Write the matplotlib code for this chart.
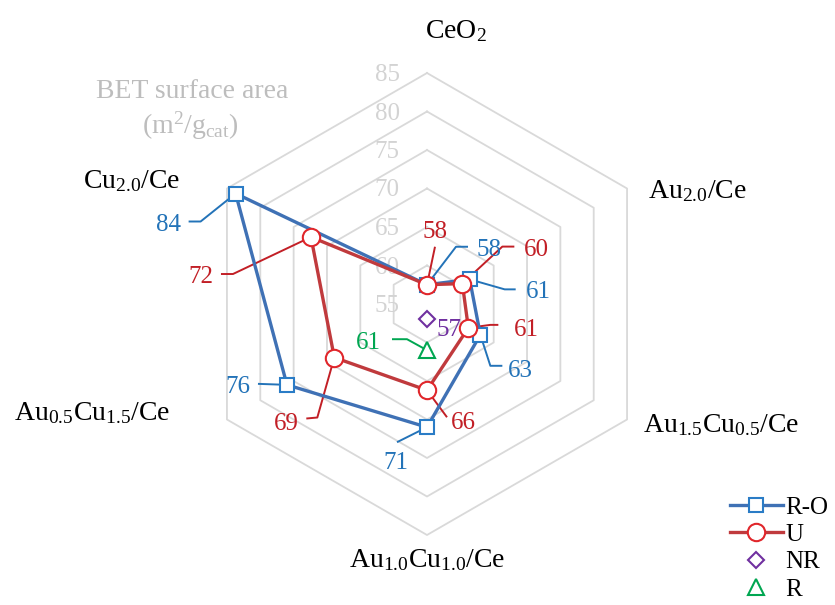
import numpy as np
import matplotlib
matplotlib.use("Agg")
import matplotlib.pyplot as plt
from matplotlib.lines import Line2D

plt.rcParams["font.family"] = ["Liberation Serif", "DejaVu Serif"]
plt.rcParams["mathtext.fontset"] = "custom"
plt.rcParams["mathtext.rm"] = "Liberation Serif"
plt.rcParams["mathtext.it"] = "Liberation Serif:italic"

# ============ DATA ============
CATEGORIES = ["CeO$_2$", "Au$_{2.0}$/Ce", "Au$_{1.5}$Cu$_{0.5}$/Ce",
              "Au$_{1.0}$Cu$_{1.0}$/Ce", "Au$_{0.5}$Cu$_{1.5}$/Ce", "Cu$_{2.0}$/Ce"]
R_O = [57.5, 61.4, 63, 71, 76, 83.7]
U = [57.5, 60.3, 61.2, 66.2, 68.9, 72.4]
NR = [np.nan, np.nan, np.nan, 57, np.nan, np.nan]
R = [np.nan, np.nan, np.nan, 61, np.nan, np.nan]
RING_VALUES = [60, 65, 70, 75, 80, 85]
TICK_VALUES = [55, 60, 65, 70, 75, 80, 85]
R_MIN = 55

# ============ STYLE ============
BLUE_LINE, BLUE_MK, BLUE_TXT = "#3f71b5", "#2a7cc6", "#2373b8"
RED_LINE, RED_MK, RED_TXT = "#c03a3d", "#e0262b", "#c21f26"
PURPLE, GREEN = "#7030a0", "#00a651"
GRID = "#d9d9d9"
PX = 7.7                      # pixels per value unit
CX, CY = 427, 304             # centre of the web in pixels
W, H = 835, 605

# leader layout, pixel offsets from the marker (image y down):
# (leader vertices, text offset, ha, va)
RO_LAYOUT = [
    ([(29, -38), (41, -38)], (49, -35), "left", "center"),
    ([(35, 10), (46, 10)], (56, 13), "left", "center"),
    ([(10, 31), (22, 31)], (28, 36), "left", "center"),
    ([(-30, 15)], (-31, 25), "center", "top"),
    ([(-29, -1)], (-37, 2), "right", "center"),
    ([(-35, 28), (-47, 28)], (-55, 31), "right", "center"),
]
U_LAYOUT = [
    ([(8, -38)], (8, -53), "center", "center"),
    ([(40, -37), (52, -37)], (62, -34), "left", "center"),
    ([(22, -3), (30, -3)], (46, 2), "left", "center"),
    ([(20, 27)], (24, 33), "left", "center"),
    ([(-17, 60), (-28, 61)], (-36, 66), "right", "center"),
    ([(-78, 37), (-90, 37)], (-98, 40), "right", "center"),
]
NR_LAYOUT = {3: ([], (10, 11), "left", "center")}
R_LAYOUT = {3: ([(-20, -11), (-35, -11)], (-46, -7), "right", "center")}

# axis label positions, pixel offsets from the outer vertex
CAT_LAYOUT = [
    ((29, -42), "center"),
    ((21, 3), "left"),
    ((16, 6), "left"),
    ((0, 25), "center"),
    ((-57, -6), "right"),
    ((-47, -7), "right"),
]

angles = np.deg2rad(90 - 60 * np.arange(len(CATEGORIES)))


def to_xy(values):
    r = np.asarray(values, dtype=float) - R_MIN
    return r * np.cos(angles), r * np.sin(angles)


def px(d):
    return d[0] / PX, -d[1] / PX


def add_labels(ax, values, layout, color):
    xs, ys = to_xy(values)
    items = layout.items() if isinstance(layout, dict) else enumerate(layout)
    for i, (path, toff, ha, va) in items:
        x0, y0 = xs[i], ys[i]
        pts = [(x0, y0)] + [(x0 + px(p)[0], y0 + px(p)[1]) for p in path]
        if len(pts) > 1:
            ax.plot([p[0] for p in pts], [p[1] for p in pts], color=color,
                    lw=1.4, zorder=2, solid_capstyle="butt")
        tx, ty = px(toff)
        ax.text(x0 + tx, y0 + ty, f"{values[i]:.0f}", color=color,
                fontsize=18, ha=ha, va=va, zorder=6)


fig = plt.figure(figsize=(W / 100, H / 100), dpi=100)
ax = fig.add_axes([0, 0, 1, 1])
ax.set_xlim(-CX / PX, (W - CX) / PX)
ax.set_ylim(-(H - CY) / PX, CY / PX)
ax.axis("off")

# hexagonal grid
closed = np.append(angles, angles[0])
for v in RING_VALUES:
    r = v - R_MIN
    ax.plot(r * np.cos(closed), r * np.sin(closed), color=GRID, lw=1.3, zorder=0)

for v in TICK_VALUES:
    ax.text(-40 / PX, v - R_MIN - 2 / PX, str(v), color="#d3d3d3", fontsize=18,
            ha="center", va="center", zorder=1)

ax.text(-235 / PX, 212 / PX, "BET surface area", color="#bdbdbd", fontsize=20,
        ha="center", va="center")
ax.text(-237 / PX, 178 / PX, r"(m$^{2}$/g$_{\mathrm{cat}}$)", color="#bdbdbd",
        fontsize=20, ha="center", va="center")

# category labels
rmax = RING_VALUES[-1] - R_MIN
for name, a, (off, ha) in zip(CATEGORIES, angles, CAT_LAYOUT):
    ox, oy = px(off)
    ax.text(rmax * np.cos(a) + ox, rmax * np.sin(a) + oy, name, fontsize=20,
            ha=ha, va="center", color="black")

# series
x, y = to_xy(R_O)
ax.plot(np.append(x, x[0]), np.append(y, y[0]), color=BLUE_LINE, lw=2.4, zorder=3)
ax.plot(x, y, ls="none", marker="s", ms=9.5, mfc="white", mec=BLUE_MK, mew=1.5, zorder=4)
x, y = to_xy(U)
ax.plot(np.append(x, x[0]), np.append(y, y[0]), color=RED_LINE, lw=2.4, zorder=3)
ax.plot(x, y, ls="none", marker="o", ms=12.5, mfc="white", mec=RED_MK, mew=1.5, zorder=4)
x, y = to_xy(NR)
ax.plot(x, y, ls="none", marker="D", ms=8.5, mfc="white", mec=PURPLE, mew=1.5, zorder=4)
x, y = to_xy(R)
ax.plot(x, y, ls="none", marker="^", ms=11, mfc="white", mec=GREEN, mew=1.5, zorder=4)

add_labels(ax, R_O, RO_LAYOUT, BLUE_TXT)
add_labels(ax, U, U_LAYOUT, RED_TXT)
add_labels(ax, NR, NR_LAYOUT, PURPLE)
add_labels(ax, R, R_LAYOUT, GREEN)

handles = [
    Line2D([], [], color=BLUE_LINE, lw=2.4, marker="s", ms=9.5, mfc="white", mec=BLUE_MK, mew=1.5),
    Line2D([], [], color=RED_LINE, lw=2.4, marker="o", ms=12.5, mfc="white", mec=RED_MK, mew=1.5),
    Line2D([], [], ls="none", marker="D", ms=8.5, mfc="white", mec=PURPLE, mew=1.5),
    Line2D([], [], ls="none", marker="^", ms=11, mfc="white", mec=GREEN, mew=1.5),
]
fig.legend(handles, ["R-O", "U", "NR", "R"], loc="upper left",
           bbox_to_anchor=(730 / W, 1 - 496 / H), frameon=False, fontsize=18,
           handlelength=2.1, handletextpad=0.1, labelspacing=0.2, borderpad=0,
           borderaxespad=0)

fig.savefig("out.png", dpi=100, facecolor="white")
